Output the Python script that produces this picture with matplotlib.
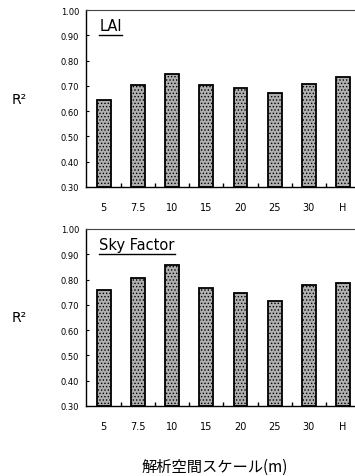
import matplotlib
matplotlib.use("Agg")
import matplotlib.pyplot as plt
import numpy as np

plt.rcParams['font.family'] = ['DejaVu Sans', 'Noto Sans CJK JP']
plt.rcParams['hatch.color'] = '#555555'
plt.rcParams['hatch.linewidth'] = 0.6

categories = ["5", "7.5", "10", "15", "20", "25", "30", "H"]
lai_r2 = [0.645, 0.705, 0.746, 0.705, 0.691, 0.673, 0.706, 0.735]
sky_r2 = [0.759, 0.805, 0.858, 0.767, 0.747, 0.716, 0.779, 0.787]
yticks = [0.30, 0.40, 0.50, 0.60, 0.70, 0.80, 0.90, 1.00]
panel_titles = ["LAI", "Sky Factor"]
ylabel = "R²"
xlabel = "解析空間スケール(m)"

W, H = 355, 477
fig = plt.figure(figsize=(W / 100, H / 100), dpi=100)

panels = [
    (lai_r2, panel_titles[0], (86, 11, 355, 188)),
    (sky_r2, panel_titles[1], (86, 230, 355, 407)),
]

x = np.arange(len(categories))
for vals, title, (l, t, r, b) in panels:
    ax = fig.add_axes([l / W, 1 - b / H, (r - l) / W, (b - t) / H])
    ax.bar(x, np.array(vals) - 0.30, bottom=0.30, width=0.40,
           facecolor='#b0b0b0', edgecolor='black', linewidth=1.3,
           hatch='.....')
    ax.set_ylim(0.30, 1.00)
    ax.set_xlim(-0.52, 7.35)
    ax.set_yticks(yticks)
    ax.set_yticklabels([f"{v:.2f}" for v in yticks], fontsize=6)
    ax.set_xticks(x)
    ax.set_xticklabels(categories, fontsize=7)
    ax.set_xticks(x[:-1] + 0.5, minor=True)
    ax.tick_params(axis='x', which='major', length=0, pad=11)
    ax.tick_params(axis='x', which='minor', length=3, direction='in', width=1)
    ax.tick_params(axis='y', length=2, direction='in', width=0.8, pad=5)
    ax.spines['right'].set_visible(False)
    for s in ['left', 'bottom']:
        ax.spines[s].set_linewidth(1.0)
    ax.spines['top'].set_linewidth(0.8)
    ax.spines['top'].set_color('#444444')
    ax.text(0.05, 0.955, title, transform=ax.transAxes, fontsize=10.5,
            ha='left', va='top')
    # underline
    tx = ax.text(0.05, 0.955, title, transform=ax.transAxes, fontsize=10.5,
                 ha='left', va='top', alpha=0)
    fig.canvas.draw()
    bb = tx.get_window_extent().transformed(ax.transAxes.inverted())
    ax.plot([bb.x0, bb.x1], [bb.y0 - 0.01, bb.y0 - 0.01], transform=ax.transAxes,
            color='black', linewidth=1.0, clip_on=False)
    ax.text(-0.25, 0.5, ylabel, transform=ax.transAxes, fontsize=10,
            ha='center', va='center')

fig.text(215 / W, 1 - 467 / H, xlabel, fontsize=11, ha='center', va='center',
         family=['Noto Sans CJK JP', 'DejaVu Sans'])

fig.savefig("out.png", dpi=100)
